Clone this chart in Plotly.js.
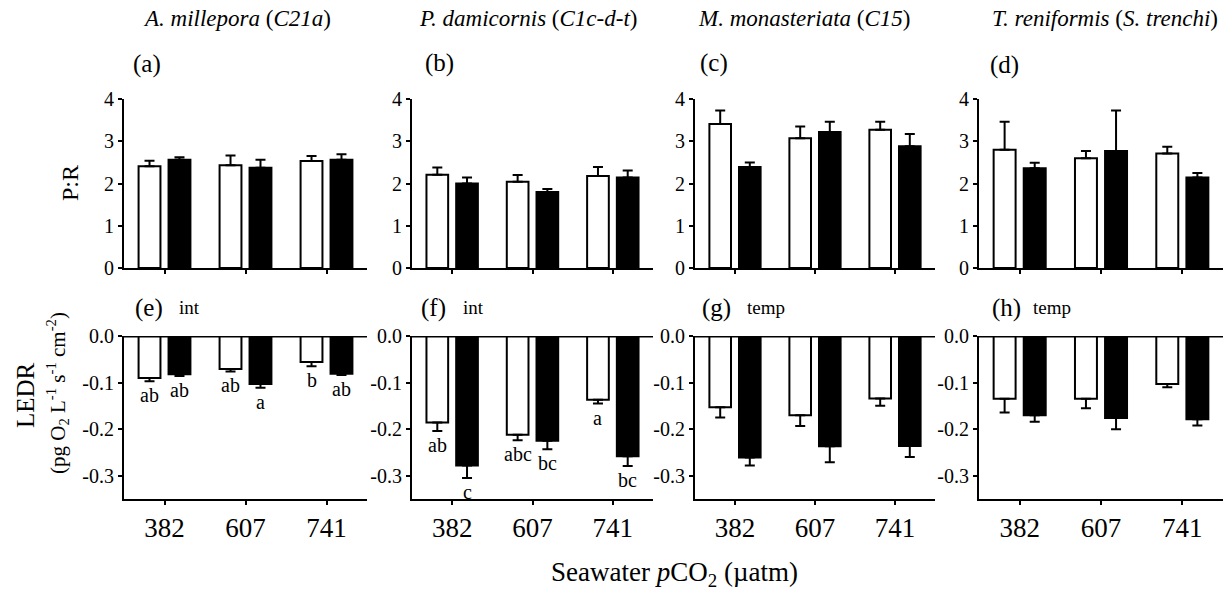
<!DOCTYPE html>
<html>
<head>
<meta charset="utf-8">
<script src="https://cdn.plot.ly/plotly-3.0.1.min.js"></script>
<style>html,body{margin:0;padding:0;background:#fff;} #chart{width:1230px;height:593px;}</style>
</head>
<body>
<div id="chart"></div>
<script>
// ---- data ----
const cats = ['382', '607', '741'];
const species = ['<i>A. millepora</i> (<i>C21a</i>)', '<i>P. damicornis</i> (<i>C1c-d-t</i>)',
                 '<i>M. monasteriata</i> (<i>C15</i>)', '<i>T. reniformis</i> (<i>S. trenchi</i>)'];
const topLabels = ['(a)', '(b)', '(c)', '(d)'];
const bottomLabels = ['(e)', '(f)', '(g)', '(h)'];
const effects = ['int', 'int', 'temp', 'temp'];

// P:R (top row)
const prWhite    = [[2.41, 2.43, 2.53], [2.21, 2.04, 2.18], [3.41, 3.07, 3.27], [2.80, 2.60, 2.71]];
const prWhiteErr = [[0.13, 0.23, 0.12], [0.17, 0.16, 0.21], [0.32, 0.28, 0.19], [0.66, 0.17, 0.16]];
const prBlack    = [[2.56, 2.37, 2.56], [2.00, 1.80, 2.14], [2.39, 3.22, 2.88], [2.36, 2.77, 2.14]];
const prBlackErr = [[0.06, 0.19, 0.13], [0.14, 0.07, 0.17], [0.11, 0.24, 0.29], [0.13, 0.96, 0.11]];

// LEDR (bottom row)
const ledrWhite    = [[-0.090, -0.071, -0.056], [-0.186, -0.212, -0.137], [-0.153, -0.170, -0.134], [-0.135, -0.135, -0.103]];
const ledrWhiteErr = [[0.007, 0.005, 0.009], [0.018, 0.012, 0.008], [0.022, 0.023, 0.016], [0.029, 0.020, 0.007]];
const ledrBlack    = [[-0.082, -0.103, -0.081], [-0.278, -0.225, -0.258], [-0.261, -0.237, -0.236], [-0.170, -0.176, -0.179]];
const ledrBlackErr = [[0.004, 0.008, 0.003], [0.027, 0.018, 0.021], [0.017, 0.034, 0.024], [0.014, 0.024, 0.013]];

// significance letters
const lettersWhite = [['ab', 'ab', 'b'], ['ab', 'abc', 'a'], null, null];
const lettersBlack = [['ab', 'a', 'ab'], ['c', 'bc', 'bc'], null, null];

const prTicks = [0, 1, 2, 3, 4];
const ledrTickVals = [-0.3, -0.2, -0.1, 0];
const ledrTickText = ['-0.3', '-0.2', '-0.1', '0.0'];

// ---- layout geometry ----
const W = 1230, H = 593;
const FONT = '"Liberation Serif", "Times New Roman", serif';
const colPx = [[124, 367], [412, 653], [695, 935], [979, 1223]];
const topRowPx = [99, 268];
const botRowPx = [336, 499];
const px2x = p => p / W;
const px2y = p => 1 - p / H;

const traces = [];
const layout = {
  width: W, height: H,
  margin: {l: 0, r: 0, t: 0, b: 0},
  paper_bgcolor: '#fff', plot_bgcolor: 'rgba(0,0,0,0)',
  showlegend: false,
  barmode: 'group', bargap: 0.26, bargroupgap: 0.27,
  font: {family: FONT, color: '#000', size: 20},
  annotations: [], shapes: []
};

function barTrace(xa, ya, y, err, fill, neg) {
  return {
    type: 'bar', x: cats, y: y, xaxis: xa, yaxis: ya,
    marker: {color: fill, line: {color: '#000', width: 2}},
    error_y: {
      type: 'data', symmetric: false,
      array: neg ? y.map(() => 0) : err,
      arrayminus: neg ? err : y.map(() => 0),
      color: '#000', thickness: 2, width: 5
    },
    hoverinfo: 'none'
  };
}

for (let i = 0; i < 4; i++) {
  const t = i + 1, b = i + 5;
  const xd = [px2x(colPx[i][0]), px2x(colPx[i][1])];
  // top row
  traces.push(barTrace('x' + t, 'y' + t, prWhite[i], prWhiteErr[i], '#fff', false));
  traces.push(barTrace('x' + t, 'y' + t, prBlack[i], prBlackErr[i], '#000', false));
  layout['xaxis' + t] = {
    domain: xd, anchor: 'y' + t, type: 'category', range: [-0.5, 2.5],
    showline: true, linewidth: 2, linecolor: '#000', ticks: 'outside', ticklen: 4, tickwidth: 2,
    tickcolor: '#000', showticklabels: false, showgrid: false, zeroline: false, fixedrange: true
  };
  layout['yaxis' + t] = {
    domain: [px2y(topRowPx[1]), px2y(topRowPx[0])], anchor: 'x' + t, range: [0, 4],
    tickvals: prTicks, ticks: 'outside', ticklen: 4, tickwidth: 2, tickcolor: '#000',
    showline: true, linewidth: 2, linecolor: '#000', showgrid: false, zeroline: false,
    tickfont: {family: FONT, size: 20, color: '#000'}, fixedrange: true
  };
  // bottom row
  traces.push(barTrace('x' + b, 'y' + b, ledrWhite[i], ledrWhiteErr[i], '#fff', true));
  traces.push(barTrace('x' + b, 'y' + b, ledrBlack[i], ledrBlackErr[i], '#000', true));
  layout['xaxis' + b] = {
    domain: xd, anchor: 'y' + b, type: 'category', range: [-0.5, 2.5],
    showline: true, linewidth: 2, linecolor: '#000', ticks: 'outside', ticklen: 4, tickwidth: 2,
    tickcolor: '#000', showgrid: false, zeroline: false, ticklabelstandoff: 0,
    tickfont: {family: FONT, size: 27, color: '#000'}, fixedrange: true
  };
  layout['yaxis' + b] = {
    domain: [px2y(botRowPx[1]), px2y(botRowPx[0])], anchor: 'x' + b, range: [-0.35, 0],
    tickvals: ledrTickVals, ticktext: ledrTickText, ticks: 'outside', ticklen: 4, tickwidth: 2,
    tickcolor: '#000', showline: true, linewidth: 2, linecolor: '#000', showgrid: false, zeroline: false,
    tickfont: {family: FONT, size: 20, color: '#000'}, fixedrange: true
  };
  // thick zero line on bottom row
  layout.shapes.push({type: 'line', xref: 'x' + b + ' domain', yref: 'y' + b, x0: 0, x1: 1, y0: 0, y1: 0,
                      line: {color: '#000', width: 3}});
  // significance letters (category axis: x given as category index)
  [[lettersWhite[i], ledrWhite[i], ledrWhiteErr[i], -15], [lettersBlack[i], ledrBlack[i], ledrBlackErr[i], 15]]
    .forEach(([lets, vals, errs, shift]) => {
      if (!lets) return;
      lets.forEach((txt, j) => {
        layout.annotations.push({
          xref: 'x' + b, yref: 'y' + b, x: cats.indexOf(cats[j]), y: vals[j] - errs[j], xshift: shift, yshift: -1,
          yanchor: 'top', xanchor: 'center', text: txt, showarrow: false,
          font: {family: FONT, size: 20, color: '#000'}
        });
      });
    });
}

// species titles
const titleX = [237, 528, 804, 1105];
species.forEach((s, i) => layout.annotations.push({
  xref: 'paper', yref: 'paper', x: px2x(titleX[i]), y: px2y(18), xanchor: 'center', yanchor: 'middle',
  text: s, showarrow: false, font: {family: FONT, size: 23, color: '#000'}
}));
// panel labels
const topLabX = [147, 439, 714, 1005];
const topLabY = [64, 63, 63, 65];
topLabels.forEach((s, i) => layout.annotations.push({
  xref: 'paper', yref: 'paper', x: px2x(topLabX[i]), y: px2y(topLabY[i]), xanchor: 'center', yanchor: 'middle',
  text: s, showarrow: false, font: {family: FONT, size: 25, color: '#000'}
}));
const botLabX = [149, 433, 716, 1006];
const effX = [189, 473, 766, 1052];
bottomLabels.forEach((s, i) => {
  layout.annotations.push({
    xref: 'paper', yref: 'paper', x: px2x(botLabX[i]), y: px2y(308), xanchor: 'center', yanchor: 'middle',
    text: s, showarrow: false, font: {family: FONT, size: 25, color: '#000'}
  });
  layout.annotations.push({
    xref: 'paper', yref: 'paper', x: px2x(effX[i]), y: px2y(307), xanchor: 'center', yanchor: 'middle',
    text: effects[i], showarrow: false, font: {family: FONT, size: 19, color: '#000'}
  });
});
// axis titles
layout.annotations.push({
  xref: 'paper', yref: 'paper', x: px2x(70), y: px2y(183), xanchor: 'center', yanchor: 'middle',
  text: 'P:R', textangle: -90, showarrow: false, font: {family: FONT, size: 24, color: '#000'}
});
layout.annotations.push({
  xref: 'paper', yref: 'paper', x: px2x(25), y: px2y(395), xanchor: 'center', yanchor: 'middle',
  text: 'LEDR', textangle: -90, showarrow: false, font: {family: FONT, size: 25, color: '#000'}
});
layout.annotations.push({
  xref: 'paper', yref: 'paper', x: px2x(57), y: px2y(393), xanchor: 'center', yanchor: 'middle',
  text: '(pg O<sub>2</sub> L<sup>-1</sup> s<sup>-1</sup> cm<sup>-2</sup>)', textangle: -90, showarrow: false,
  font: {family: FONT, size: 21, color: '#000'}
});
layout.annotations.push({
  xref: 'paper', yref: 'paper', x: px2x(674), y: px2y(574), xanchor: 'center', yanchor: 'middle',
  text: 'Seawater <i>p</i>CO<sub>2</sub> (\u00b5atm)', showarrow: false,
  font: {family: FONT, size: 27, color: '#000'}
});

Plotly.newPlot('chart', traces, layout, {staticPlot: true, displayModeBar: false});
</script>
</body>
</html>
